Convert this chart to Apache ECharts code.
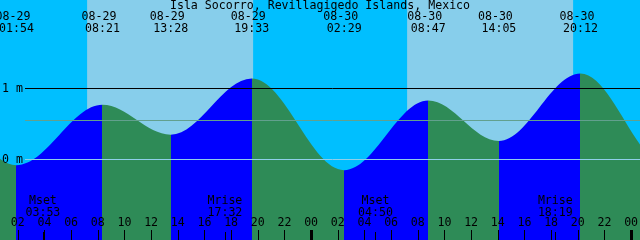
<!DOCTYPE html>
<html>
<head>
<meta charset="utf-8">
<script src="https://cdn.jsdelivr.net/npm/echarts@6/dist/echarts.min.js"></script>
<style>html,body{margin:0;padding:0;background:#00BFFF}#main{width:640px;height:240px}</style>
</head>
<body>
<div id="main"></div>
<script>
var stationName = 'Isla Socorro, Revillagigedo Islands, Mexico';

// high / low waters
var extremeDates = ['08-29', '08-29', '08-29', '08-29', '08-30', '08-30', '08-30', '08-30'];
var extremeTimes = ['01:54', '08:21', '13:28', '19:33', '02:29', '08:47', '14:05', '20:12'];
var extremeHeights = [-0.08, 0.77, 0.35, 1.14, -0.15, 0.83, 0.26, 1.21];
// turning points outside the window, so the curve reaches both edges
var beforeDates = ['08-28', '08-28'];
var beforeTimes = ['12:50', '19:00'];
var beforeHeights = [0.40, 1.10];
var afterDates = ['08-31', '08-31'];
var afterTimes = ['02:48', '09:10'];
var afterHeights = [-0.10, 0.85];

// sunrise, sunset, sunrise, sunset
var sunDates = ['08-29', '08-29', '08-30', '08-30'];
var sunTimes = ['07:12', '19:39', '07:12', '19:39'];

var moonNames = ['Mset', 'Mrise', 'Mset', 'Mrise'];
var moonDates = ['08-29', '08-29', '08-30', '08-30'];
var moonTimes = ['03:53', '17:32', '04:50', '18:19'];

var hourTicks = [2, 4, 6, 8, 10, 12, 14, 16, 18, 20, 22, 24, 26, 28, 30, 32, 34, 36, 38, 40, 42, 44, 46, 48];
var midnightTicks = [24, 48];
var levelMarks = [0, 1];
var meanLevel = 0.549;

var FONT = 'DejaVu Sans Mono';
var FSIZE = 11.6;
var X_MIN = 2 / 3, X_MAX = 48 + 2 / 3;
var Y_MIN = -1.1338, Y_MAX = 2.2465;
var LINE_START = X_MIN + 25 / 13.333;

function toHour(d, t) {
    var day = parseInt(d.split('-')[1], 10) - 29;
    var p = t.split(':');
    return day * 24 + parseInt(p[0], 10) + parseInt(p[1], 10) / 60;
}
function pad(n) { return n < 10 ? '0' + n : '' + n; }
function findIdx(list, v) {
    for (var i = 0; i < list.length; i++) {
        if (Math.abs(list[i] - v) < 1e-6) return i;
    }
    return -1;
}

var extremeHours = extremeDates.map(function (d, i) { return toHour(d, extremeTimes[i]); });
var moonHours = moonDates.map(function (d, i) { return toHour(d, moonTimes[i]); });
var sunHours = sunDates.map(function (d, i) { return toHour(d, sunTimes[i]); });

var tidePts = [];
beforeDates.forEach(function (d, i) { tidePts.push([toHour(d, beforeTimes[i]), beforeHeights[i]]); });
extremeHours.forEach(function (h, i) { tidePts.push([h, extremeHeights[i]]); });
afterDates.forEach(function (d, i) { tidePts.push([toHour(d, afterTimes[i]), afterHeights[i]]); });

// rising = blue, falling = green
var pieces = [];
for (var i = 0; i <= extremeHours.length; i++) {
    var lo = i === 0 ? -Infinity : extremeHours[i - 1];
    var hi = i === extremeHours.length ? Infinity : extremeHours[i];
    var nextH = i < extremeHeights.length ? extremeHeights[i] : afterHeights[0];
    var prevH = i > 0 ? extremeHeights[i - 1] : beforeHeights[beforeHeights.length - 1];
    var pc = { color: prevH < nextH ? '#0000FF' : '#2E8B57' };
    if (lo !== -Infinity) pc.gte = lo;
    if (hi !== Infinity) pc.lt = hi;
    pieces.push(pc);
}

var dayBands = [];
for (var k = 0; k < sunHours.length; k += 2) {
    dayBands.push([{ xAxis: sunHours[k] }, { xAxis: sunHours[k + 1] }]);
}

var txt = { fontFamily: FONT, fontSize: FSIZE, color: '#000', lineHeight: 12 };
function baseX(extra) {
    var a = {
        type: 'value', min: X_MIN, max: X_MAX, position: 'bottom', z: 10,
        axisLine: { show: false, onZero: false }, splitLine: { show: false },
        axisTick: { show: false }, axisLabel: { show: false }
    };
    for (var key in extra) a[key] = extra[key];
    return a;
}

var chart = echarts.init(document.getElementById('main'));
chart.setOption({
    backgroundColor: '#00BFFF',
    animation: false,
    title: {
        text: stationName, left: 'center', top: 0, padding: 0, z: 10,
        textStyle: { fontFamily: FONT, fontSize: FSIZE, fontWeight: 'normal', color: '#000', lineHeight: 12 }
    },
    grid: { left: 0, right: 0, top: 0, bottom: 0, outerBoundsMode: 'none' },
    visualMap: { type: 'piecewise', show: false, dimension: 0, seriesIndex: 2, pieces: pieces },
    xAxis: [
        baseX({
            axisTick: { show: true, inside: true, length: 10, customValues: hourTicks, lineStyle: { color: '#000', width: 1 } },
            axisLabel: Object.assign({ show: true, inside: true, margin: 11, customValues: hourTicks,
                formatter: function (v) { return pad(Math.round(v) % 24); } }, txt)
        }),
        baseX({
            axisTick: { show: true, inside: true, length: 10, customValues: midnightTicks, lineStyle: { color: '#000', width: 3 } }
        }),
        baseX({
            axisTick: { show: true, inside: true, length: 8, customValues: moonHours, lineStyle: { color: '#000', width: 1 } },
            axisLabel: Object.assign({ show: true, inside: true, margin: 21, customValues: moonHours,
                formatter: function (v) {
                    var i = findIdx(moonHours, v);
                    return moonNames[i] + '\n' + moonTimes[i];
                } }, txt)
        }),
        baseX({
            position: 'top',
            axisLabel: Object.assign({ show: true, inside: true, margin: 11, customValues: extremeHours,
                formatter: function (v) {
                    var i = findIdx(extremeHours, v);
                    return extremeDates[i] + ' \n' + extremeTimes[i];
                } }, txt)
        })
    ],
    yAxis: {
        type: 'value', min: Y_MIN, max: Y_MAX, z: 10,
        axisLine: { show: false, onZero: false }, splitLine: { show: false }, axisTick: { show: false },
        axisLabel: Object.assign({ inside: true, margin: 2, customValues: levelMarks,
            formatter: function (v) { return v + ' m'; } }, txt)
    },
    series: [
        {
            type: 'line', data: [], z: 0, silent: true,
            markArea: { silent: true, itemStyle: { color: '#87CEEB' }, data: dayBands }
        },
        {
            type: 'line', data: [], z: 1, silent: true,
            markLine: {
                silent: true, symbol: 'none', label: { show: false },
                lineStyle: { color: '#000', width: 1, type: 'solid' },
                data: [[{ coord: [LINE_START, levelMarks[1]] }, { coord: [X_MAX, levelMarks[1]] }]]
            }
        },
        {
            type: 'line', data: tidePts, z: 2, silent: true,
            smooth: 0.36, smoothMonotone: 'x', showSymbol: false,
            lineStyle: { width: 0 }, areaStyle: { opacity: 1, origin: 'start' }
        },
        {
            type: 'line', data: [], z: 3, silent: true,
            markLine: {
                silent: true, symbol: 'none', label: { show: false },
                data: [
                    [{ coord: [LINE_START, meanLevel], lineStyle: { color: '#62A08E', width: 1, type: 'solid' } },
                     { coord: [X_MAX, meanLevel] }],
                    [{ coord: [LINE_START, levelMarks[0]], lineStyle: { color: '#8FCFEA', width: 1, type: 'solid' } },
                     { coord: [X_MAX, levelMarks[0]] }]
                ]
            }
        }
    ]
});
</script>
</body>
</html>
